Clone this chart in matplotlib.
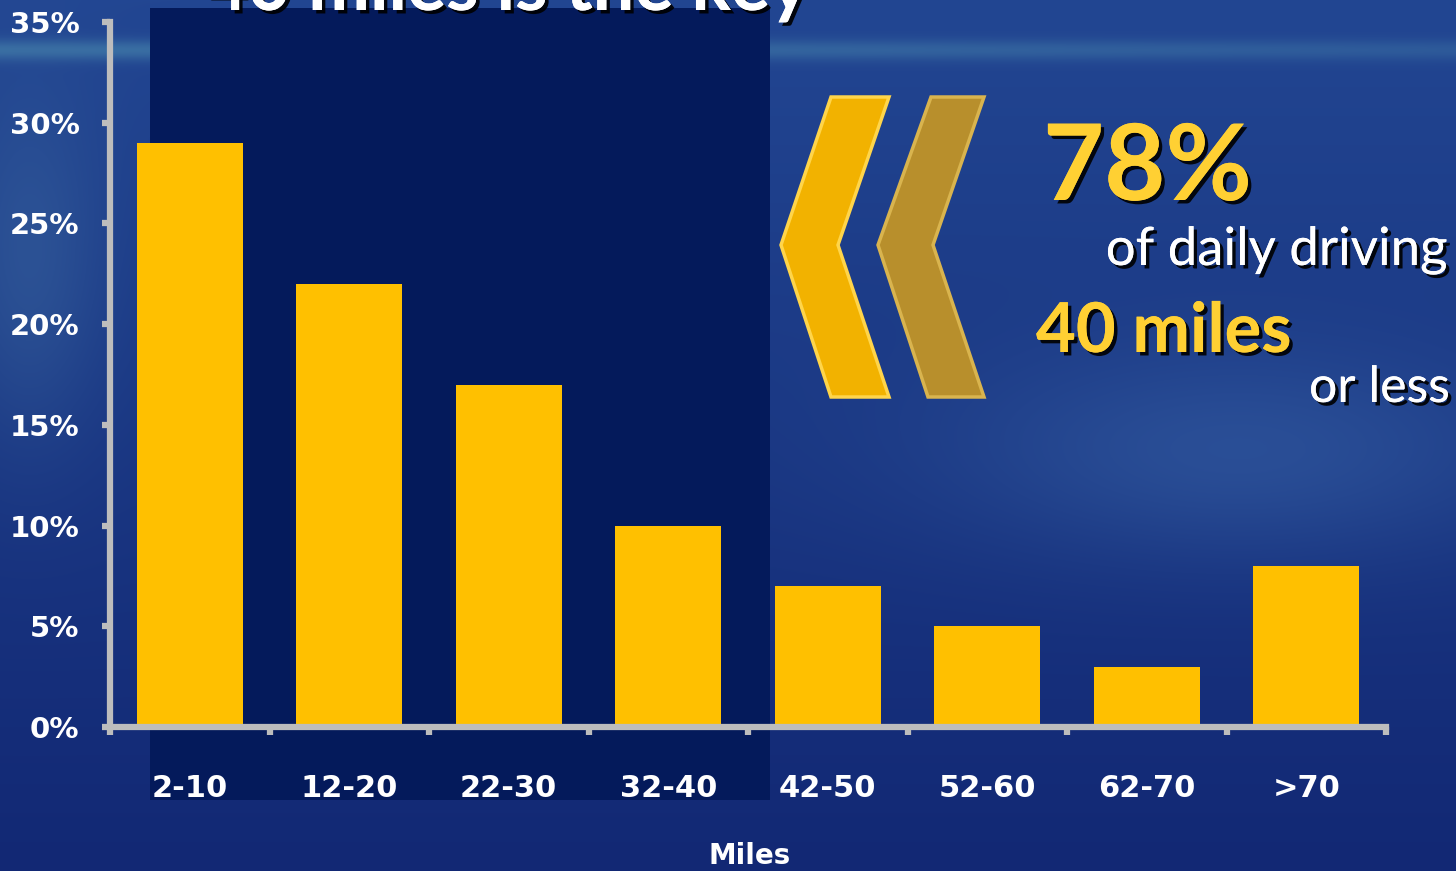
import numpy as np
import matplotlib
matplotlib.use('Agg')
import matplotlib.pyplot as plt
from matplotlib.patches import Polygon, Rectangle
import matplotlib.patheffects as pe

W, H = 1456, 871

categories = ['2-10', '12-20', '22-30', '32-40', '42-50', '52-60', '62-70', '>70']
shares = [29, 22, 17, 10, 7, 5, 3, 8]
y_ticks = [0, 5, 10, 15, 20, 25, 30, 35]

BAR = '#FFC000'
AXIS = '#BDBDBD'


def px(x, y):
    # pixel (from top-left) to figure fraction
    return x / W, 1 - y / H


def background():
    yy, xx = np.mgrid[0:H, 0:W] / np.array([H, W])[:, None, None]
    top = np.array([0x22, 0x46, 0x92]) / 255
    bot = np.array([0x12, 0x28, 0x74]) / 255
    img = top[None, None, :] * (1 - yy[..., None]) + bot[None, None, :] * yy[..., None]
    # light streak near the top
    streak = np.exp(-((yy - 0.058) / 0.012) ** 2) * (1 - 0.5 * xx)
    img += streak[..., None] * (np.array([0x40, 0x7A, 0xA8]) / 255 - img) * 0.8
    # soft glow on the right
    glow = np.exp(-(((xx - 0.85) / 0.2) ** 2 + ((yy - 0.52) / 0.12) ** 2))
    img += glow[..., None] * (np.array([0x3A, 0x66, 0xAA]) / 255 - img) * 0.5
    # lighter band on left
    left = np.exp(-((xx - 0.02) / 0.05) ** 2) * np.exp(-((yy - 0.3) / 0.2) ** 2)
    img += left[..., None] * (np.array([0x3A, 0x66, 0xA0]) / 255 - img) * 0.5
    return np.clip(img, 0, 1)


def chevron(ax, pts, face, edge):
    poly = Polygon([px(*p) for p in pts], closed=True, transform=ax.transAxes,
                   facecolor=face, edgecolor=edge, linewidth=2.5, zorder=3)
    ax.add_patch(poly)


def main():
    fig = plt.figure(figsize=(W / 100, H / 100), dpi=100)

    bg = fig.add_axes([0, 0, 1, 1], zorder=0)
    bg.imshow(background(), extent=[0, 1, 0, 1], aspect='auto', transform=bg.transAxes)
    bg.set_xlim(0, 1)
    bg.set_ylim(0, 1)
    bg.axis('off')

    x0, y0 = px(150, 800)
    x1, y1 = px(770, 8)
    bg.add_patch(Rectangle((x0, y0), x1 - x0, y1 - y0, transform=bg.transAxes,
                           facecolor='#041A5B', edgecolor='none', zorder=1))

    chevron(bg, [(831, 97), (889, 97), (838, 245), (889, 397), (831, 397), (781, 245)],
            '#F2B200', '#FFD54A')
    chevron(bg, [(931, 97), (984, 97), (933, 245), (984, 397), (928, 397), (878, 245)],
            '#B88F2C', '#D9B44E')

    shadow = [pe.withSimplePatchShadow(offset=(2.5, -2.5), shadow_rgbFace='black', alpha=0.9),
              pe.Normal()]

    fig.text(*px(205, 10), '40 miles is the key', color='white', fontsize=53,
             fontweight='bold', family='Lato', va='baseline', ha='left',
             path_effects=shadow, zorder=5)
    fig.text(*px(1043, 200), '78%', color='#FFD033', fontsize=76, fontweight='bold',
             family='Lato', va='baseline', ha='left', path_effects=shadow, zorder=5)
    fig.text(*px(1448, 265), 'of daily driving', color='white', fontsize=38,
             family='Lato', va='baseline', ha='right', path_effects=shadow, zorder=5)
    fig.text(*px(1036, 352), '40 miles', color='#FFD033', fontsize=49.5, fontweight='bold',
             family='Lato', va='baseline', ha='left', path_effects=shadow, zorder=5)
    fig.text(*px(1450, 402), 'or less', color='white', fontsize=36,
             family='Lato', va='baseline', ha='right', path_effects=shadow, zorder=5)

    left, bottom = px(110, 727)
    right, top = px(1386, 22)
    ax = fig.add_axes([left, bottom, right - left, top - bottom], zorder=2)
    ax.patch.set_alpha(0)

    xs = np.arange(len(categories))
    ax.bar(xs, shares, width=0.665, color=BAR, zorder=2)

    ax.set_xlim(-0.5, len(categories) - 0.5)
    ax.set_ylim(0, 35)
    ax.set_yticks(y_ticks)
    ax.set_yticklabels([f'{v}%' for v in y_ticks])
    ax.set_xticks(np.arange(len(categories) + 1) - 0.5)
    ax.set_xticklabels([])
    ax.set_xticks(xs, minor=True)
    ax.set_xticklabels(categories, minor=True)

    for s in ['top', 'right']:
        ax.spines[s].set_visible(False)
    for s in ['left', 'bottom']:
        ax.spines[s].set_color(AXIS)
        ax.spines[s].set_linewidth(4.5)
        ax.spines[s].set_capstyle('projecting')

    ax.tick_params(axis='both', which='major', color=AXIS, width=4.5, length=6,
                   direction='out')
    ax.tick_params(axis='y', labelcolor='white', labelsize=21, pad=16)
    ax.tick_params(axis='x', which='minor', length=0, labelcolor='white',
                   labelsize=22, pad=34)
    for lab in ax.get_yticklabels() + ax.get_xticklabels(minor=True):
        lab.set_fontweight('bold')

    fig.text(*px(750, 856), 'Miles', color='white', fontsize=20, fontweight='bold',
             ha='center', va='center')

    fig.savefig('out.png', dpi=100)


if __name__ == '__main__':
    main()
